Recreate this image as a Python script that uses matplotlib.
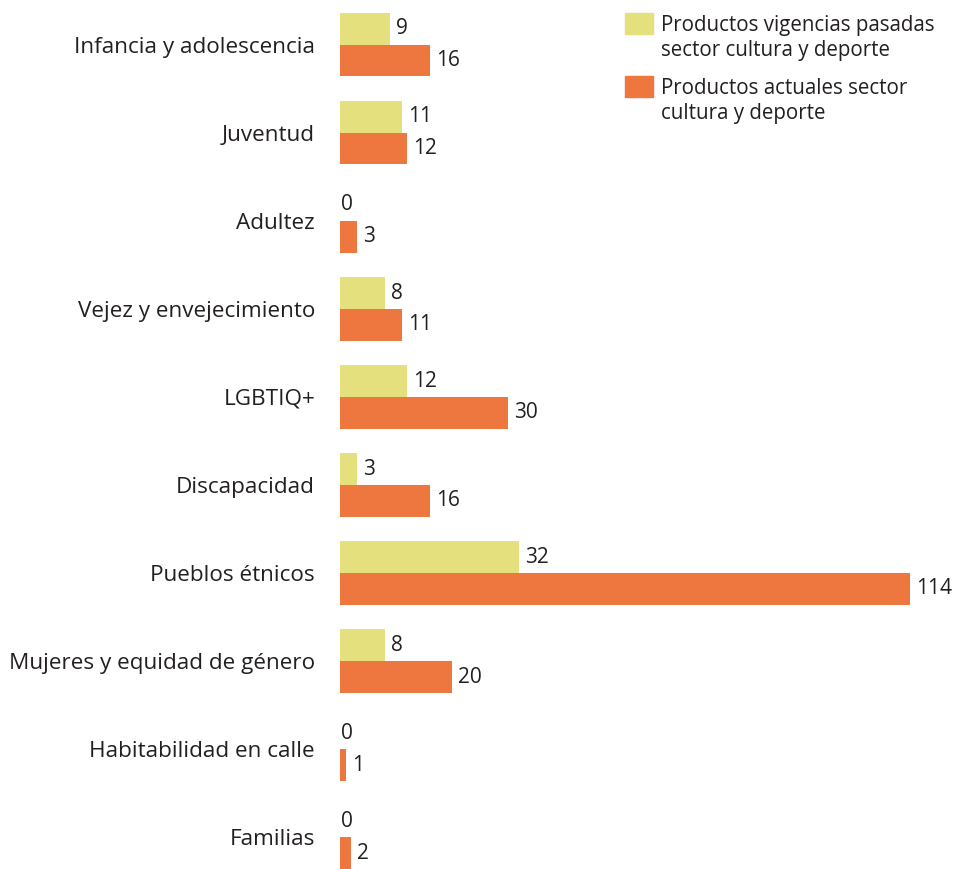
import matplotlib
matplotlib.use('Agg')
import matplotlib.pyplot as plt
from matplotlib.patches import Rectangle
import numpy as np

# Data
categorias = ['Infancia y adolescencia', 'Juventud', 'Adultez', 'Vejez y envejecimiento',
              'LGBTIQ+', 'Discapacidad', 'Pueblos étnicos', 'Mujeres y equidad de género',
              'Habitabilidad en calle', 'Familias']
vigencias_pasadas = [9, 11, 0, 8, 12, 3, 32, 8, 0, 0]
actuales = [16, 12, 3, 11, 30, 16, 114, 20, 1, 2]
leyenda = ['Productos vigencias pasadas\nsector cultura y deporte',
           'Productos actuales sector\ncultura y deporte']

COLOR_PASADAS = '#E5E07E'
COLOR_ACTUALES = '#EE763F'
TEXT_COLOR = '#231F20'
FONT = 'Open Sans'
FS = 15

plt.rcParams['font.family'] = [FONT, 'DejaVu Sans']

W, H = 957, 869
fig = plt.figure(figsize=(W / 100, H / 100), dpi=100)
ax = fig.add_axes([340 / W, 0, (910 - 340) / W, 1 - 13 / H])

y = np.arange(len(categorias))
h = 0.36
xmax = 101.8

ax.barh(y - h / 2, vigencias_pasadas, height=h, color=COLOR_PASADAS)
ax.barh(y + h / 2, actuales, height=h, color=COLOR_ACTUALES)

ax.set_xlim(0, xmax)
ax.set_ylim(len(categorias) - 1 + h, -h)

# value labels
for vals, off in [(vigencias_pasadas, -h / 2), (actuales, h / 2)]:
    for i, v in enumerate(vals):
        dx = 6 if v > 0 else 1
        ax.annotate(str(v), xy=(min(v, xmax), i + off), xytext=(dx, 0),
                    textcoords='offset pixels', ha='left', va='center',
                    fontsize=FS, color=TEXT_COLOR, clip_on=False,
                    annotation_clip=False)

ax.set_yticks(y)
ax.set_yticklabels(categorias, fontsize=16.2, color=TEXT_COLOR)
ax.tick_params(axis='y', length=0, pad=18)
ax.set_xticks([])
for s in ax.spines.values():
    s.set_visible(False)

# legend
for k, (lab, col) in enumerate(zip(leyenda, [COLOR_PASADAS, COLOR_ACTUALES])):
    top = 13 + k * 63
    fig.add_artist(Rectangle((625 / W, 1 - (top + 21) / H), 28 / W, 21 / H,
                             transform=fig.transFigure, color=col))
    fig.text(661 / W, 1 - (top + 2) / H, lab, ha='left', va='top', fontsize=14.8,
             color=TEXT_COLOR, linespacing=1.25)

fig.savefig('out.png', dpi=100)
